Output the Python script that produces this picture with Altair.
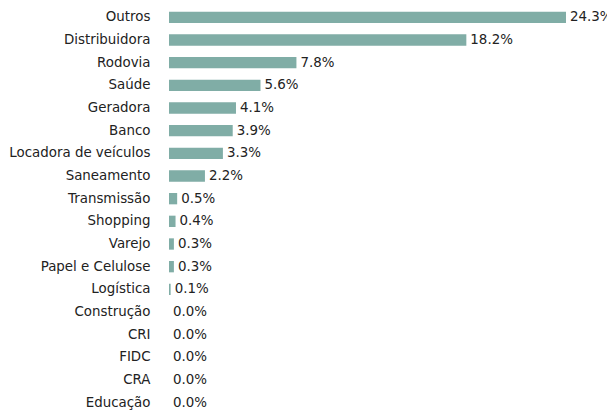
import altair as alt
import pandas as pd

categories = ["Outros", "Distribuidora", "Rodovia", "Saúde", "Geradora", "Banco",
              "Locadora de veículos", "Saneamento", "Transmissão", "Shopping", "Varejo",
              "Papel e Celulose", "Logística", "Construção", "CRI", "FIDC", "CRA", "Educação"]
values = [24.3, 18.2, 7.8, 5.6, 4.1, 3.9, 3.3, 2.2, 0.5, 0.4, 0.3, 0.3, 0.1, 0.0, 0.0, 0.0, 0.0, 0.0]

df = pd.DataFrame({"setor": categories, "pct": values})
df["label"] = [f"{v:.1f}%" for v in values]

FONT = "DejaVu Sans"
COLOR = "#80ada6"
FS = 13.4

y = alt.Y("setor:N", sort=categories, title=None,
          scale=alt.Scale(paddingInner=0.5, paddingOuter=0.25),
          axis=alt.Axis(domain=False, ticks=False, grid=False, labelPadding=19, labelFont=FONT,
                        labelFontSize=FS, labelColor="#222222", labelLimit=300))
# plot area runs to the window's right edge; 24.3 sits at ~566 px as in the reference
x = alt.X("pct:Q", title=None, scale=alt.Scale(domain=[0, 26.81], nice=False, zero=True),
          axis=None)

bars = alt.Chart(df).mark_bar(color=COLOR).encode(x=x, y=y)
text = alt.Chart(df).mark_text(align="left", baseline="middle", dx=4, font=FONT,
                               fontSize=FS, color="#222222").encode(
    x=x, y=alt.Y("setor:N", sort=categories), text="label:N")

chart = (bars + text).properties(
    width=438, height=408,
    autosize=alt.AutoSizeParams(type="none"),
    padding={"left": 169, "top": 6, "right": 0, "bottom": 0},
).configure_view(stroke=None, strokeWidth=0)

chart.save("out.html", embed_options={"renderer": "svg", "actions": False})
